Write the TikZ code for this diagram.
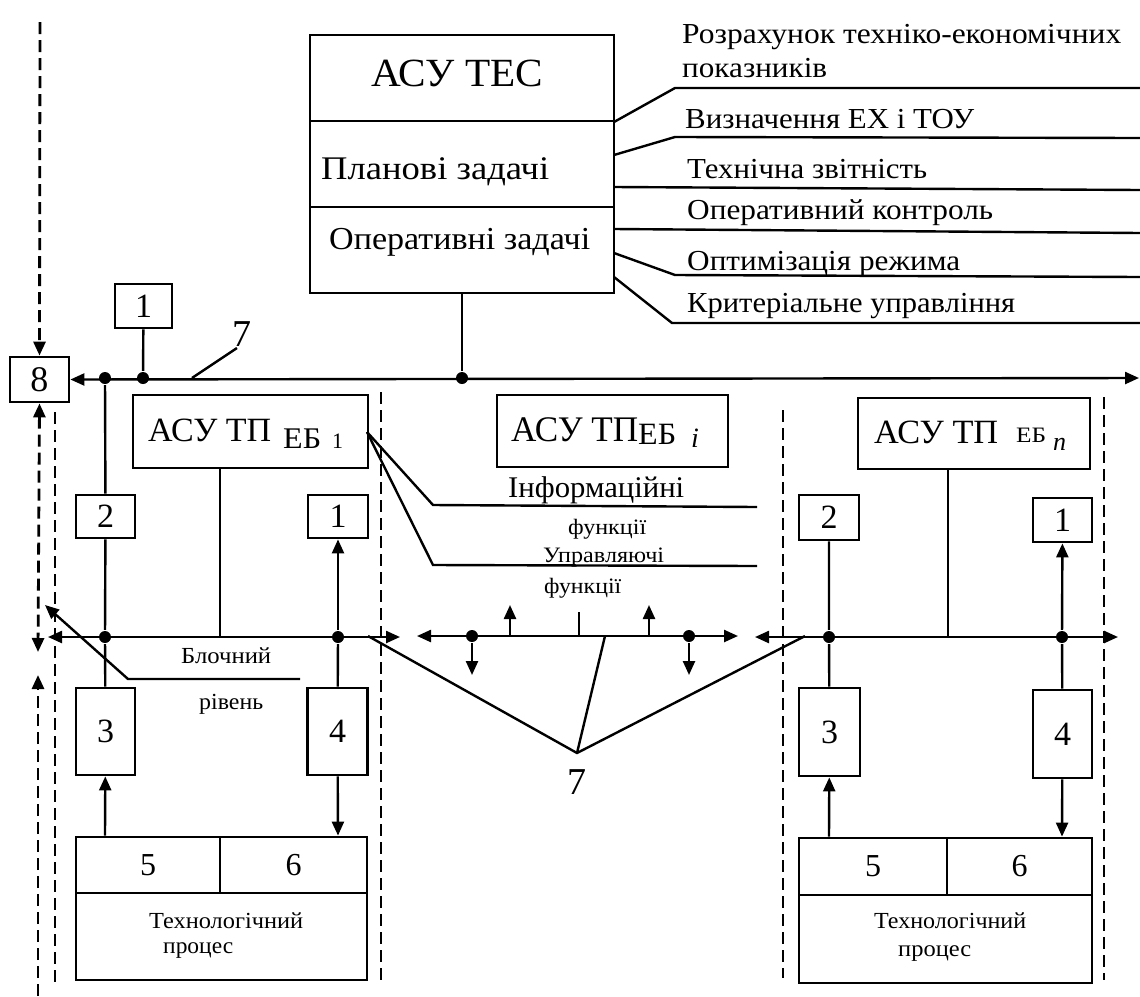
\documentclass[tikz,border=0pt]{standalone}
\usepackage{fontspec}
\setmainfont{Liberation Serif}
\usepackage{graphicx}
\usetikzlibrary{arrows.meta}
% set a text to a given width, keeping its height
\newcommand{\fitw}[2]{\resizebox{#1}{\height}{#2}}

\begin{document}
\begin{tikzpicture}[x=0.5pt,y=-0.5pt,line width=1.2pt,
  bx/.style 2 args={draw,line width=1.4pt,inner sep=0pt,
    minimum width=#1*0.5pt,minimum height=#2*0.5pt},
  tx/.style={inner sep=0pt,anchor=base west},
  arr/.style={-{Triangle[length=7pt,width=6pt]}},
  arr2/.style={{Triangle[length=7pt,width=6pt]}-{Triangle[length=7pt,width=6pt]}},
  sep/.style={line width=1.4pt,dash pattern=on 6pt off 3pt},
  jn/.style={circle,fill,inner sep=0pt,minimum size=6pt},
  ldr/.style={line width=1.2pt},
  num/.style={font=\fontsize{17}{20}\selectfont},
  rt/.style={tx,font=\fontsize{14.5}{17}\selectfont},
  sm/.style={tx,font=\fontsize{11.5}{13}\selectfont},
]
\fill[white] (0,0) rectangle (1140,996);
\useasboundingbox (0,0) rectangle (1140,996);

% ---------- plant level: АСУ ТЕС ----------
\node[bx={304}{258}] (tes) at (462,164) {};
\draw[line width=1.4pt] (310,121) -- (614,121) (310,207) -- (614,207);
\node[tx,font=\fontsize{20}{22}\selectfont] (tTes) at (370,86) {\fitw{86pt}{АСУ ТЕС}};
\node[tx,font=\fontsize{16.5}{19}\selectfont] (tPlan) at (320,179) {\fitw{114pt}{Планові задачі}};
\node[tx,font=\fontsize{16}{19}\selectfont] (tOper) at (328,249) {\fitw{130.5pt}{Оперативні задачі}};

% task list on the right
\coordinate (s1) at (614,122); \coordinate (k1) at (675,88);  \coordinate (e1) at (1140,88);
\coordinate (s2) at (614,155); \coordinate (k2) at (675,137); \coordinate (e2) at (1140,138);
\coordinate (s3) at (614,187); \coordinate (e3) at (1140,190);
\coordinate (s4) at (614,229); \coordinate (e4) at (1140,233);
\coordinate (s5) at (614,253); \coordinate (k5) at (675,275); \coordinate (e5) at (1140,277);
\coordinate (s6) at (614,277); \coordinate (k6) at (672,323); \coordinate (e6) at (1140,323);
\draw[ldr] (s1) -- (k1) -- (e1);
\draw[ldr] (s2) -- (k2) -- (e2);
\draw[ldr] (s3) -- (e3);
\draw[ldr] (s4) -- (e4);
\draw[ldr] (s5) -- (k5) -- (e5);
\draw[ldr] (s6) -- (k6) -- (e6);
\node[rt] (r1) at (681,43)  {\fitw{219.5pt}{Розрахунок техніко-економічних}};
\node[rt] (r1b) at (681,77) {\fitw{72.5pt}{показників}};
\node[rt] (r2) at (684,128) {\fitw{144.5pt}{Визначення ЕХ і ТОУ}};
\node[rt] (r3) at (686,178) {\fitw{120pt}{Технічна звітність}};
\node[rt] (r4) at (686,219) {\fitw{153pt}{Оперативний контроль}};
\node[rt] (r5) at (686,270) {\fitw{136.5pt}{Оптимізація режима}};
\node[rt] (r6) at (686,312) {\fitw{164pt}{Критеріальне управління}};

% ---------- plant bus 7 ----------
\node[bx={59}{45},font=\fontsize{18}{20}\selectfont] (b8) at (39.5,379.5) {8};
\node[bx={57}{44},num] (u0) at (143.5,306) {1};
\node[jn] (p1) at (143,378) {};
\node[jn] (p2) at (105,378) {};
\node[jn] (p3) at (462,378) {};
\coordinate (busR) at (1139,378);
\draw[arr2] (b8.east) -- (busR);
\draw (u0) -- (p1);
\draw (tes) -- (p3);
\node[inner sep=0pt,font=\fontsize{19}{22}\selectfont] (n7a) at (242,334) {7};
\coordinate (l7s) at (192,378); \coordinate (l7e) at (237,348);
\draw[ldr] (l7s) -- (l7e);

% dashed links of node 8 and unit borders
\coordinate (d8t) at (40,22);
\draw[sep,arr] (d8t) -- (b8.north);
\coordinate (d8m) at (38,652);
\draw[sep,arr2] (b8.south) -- (d8m);
\coordinate (d8b) at (38,996); \coordinate (d8u) at (38,675);
\draw[sep,arr] (d8b) -- (d8u);
\coordinate (g1t) at (55,412);   \coordinate (g1b) at (55,985);
\coordinate (g2t) at (381,392);  \coordinate (g2b) at (381,980);
\coordinate (g3t) at (783,410);  \coordinate (g3b) at (783,978);
\coordinate (g4t) at (1104,397); \coordinate (g4b) at (1104,980);
\draw[sep] (g1t) -- (g1b);
\draw[sep] (g2t) -- (g2b);
\draw[sep] (g3t) -- (g3b);
\draw[sep] (g4t) -- (g4b);

% ---------- unit 1 ----------
\node[bx={235}{73}] (eb1) at (250.5,431.5) {};
\node[tx,font=\fontsize{17}{20}\selectfont] at (147,441) {\fitw{61.5pt}{АСУ ТП}};
\node[tx,font=\fontsize{15}{18}\selectfont] at (282,448) {\fitw{19pt}{ЕБ}};
\node[tx,font=\fontsize{11}{12}\selectfont] at (331,448) {1};
\node[bx={59}{43},num] (a2) at (105.5,516.5) {2};
\node[bx={60}{43},num] (a1) at (338,516.5) {1};
\node[bx={59}{87},num] (a3) at (105.5,731.5) {3};
\node[bx={60}{87},num] (a4) at (337.5,731.5) {4};
\node[bx={144}{56},font=\fontsize{16}{18}\selectfont] (a5) at (148,865) {5};
\node[bx={147}{56},font=\fontsize{16}{18}\selectfont] (a6) at (293.5,865) {6};
\node[bx={291}{87}] (ap) at (221.5,936.5) {};
\node[sm] at (148,928) {\fitw{77pt}{Технологічний}};
\node[sm] at (162,953) {\fitw{35pt}{процес}};
\node[jn] (q1) at (105,637) {};
\node[jn] (q2) at (338,637) {};
\node[jn,minimum size=0pt] (q0) at (220,637) {};
\coordinate (bl1) at (48,637); \coordinate (br1) at (400,637);
\draw[arr2] (bl1) -- (br1);
\draw (p2) -- (a2);
\draw (a2) -- (q1) -- (a3);
\draw (eb1.south -| q0) -- (q0);
\draw[arr] (q2) -- (a1);
\draw (q2) -- (a4);
\draw[arr] (a5.north -| q1) -- (a3);
\draw[arr] (a4) -- (a6.north -| q2);
% block level label
\node[sm] (blk) at (180,663) {\fitw{45pt}{Блочний}};
\node[sm] (riv) at (198,709) {\fitw{32pt}{рівень}};
\coordinate (bk1) at (300,679); \coordinate (bk2) at (128,679); \coordinate (bk3) at (45,605);
\draw[ldr,arr] (bk1) -- (bk2) -- (bk3);

% ---------- unit i ----------
\node[bx={231}{72}] (ebi) at (612.5,431) {};
\node[tx,font=\fontsize{18}{20}\selectfont] at (510,441) {\fitw{63.5pt}{АСУ ТП}};
\node[tx,font=\fontsize{15.5}{18}\selectfont] at (637,444) {\fitw{19pt}{ЕБ}};
\node[tx,font=\fontsize{14}{16}\selectfont\itshape] at (690,447) {i};
% function leaders
\coordinate (f0) at (367,432);
\coordinate (f1) at (433,505); \coordinate (f1e) at (757,507);
\coordinate (f2) at (433,565); \coordinate (f2e) at (757,566);
\draw[ldr] (f0) -- (f1) -- (f1e);
\draw[ldr] (f0) -- (f2) -- (f2e);
\node[tx,font=\fontsize{15}{18}\selectfont] at (507,497) {\fitw{88pt}{Інформаційні}};
\node[tx,font=\fontsize{11}{13}\selectfont] at (567,534) {\fitw{39pt}{функції}};
\node[tx,font=\fontsize{11}{13}\selectfont] at (542,562) {\fitw{60.5pt}{Управляючі}};
\node[tx,font=\fontsize{11}{13}\selectfont] at (543,593) {\fitw{38.5pt}{функції}};
% bus of unit i
\node[jn] (m1) at (472,636) {};
\node[jn] (m2) at (689,636) {};
\coordinate (ml) at (417,636); \coordinate (mr) at (738,636);
\draw[arr2] (ml) -- (mr);
\coordinate (m1d) at (472,675); \coordinate (m2d) at (689,675);
\draw[arr] (m1) -- (m1d);
\draw[arr] (m2) -- (m2d);
\coordinate (mu1) at (510,636); \coordinate (mu1e) at (510,605);
\coordinate (mu2) at (649,636); \coordinate (mu2e) at (649,605);
\coordinate (mt) at (579,636);  \coordinate (mte) at (579,612);
\draw[arr] (mu1) -- (mu1e);
\draw[arr] (mu2) -- (mu2e);
\draw (mt) -- (mte);

% ---------- unit n ----------
\node[bx={232}{71}] (ebn) at (974,433.5) {};
\node[tx,font=\fontsize{17}{20}\selectfont] at (873,443) {\fitw{62pt}{АСУ ТП}};
\node[tx,font=\fontsize{11}{12}\selectfont] at (1015,442) {\fitw{15pt}{ЕБ}};
\node[tx,font=\fontsize{13}{14}\selectfont\itshape] at (1052,450) {n};
\node[bx={60}{45},num] (c2) at (829,517.5) {2};
\node[bx={59}{44},num] (c1) at (1062.5,520) {1};
\node[bx={61}{88},num] (c3) at (829.5,732) {3};
\node[bx={59}{88},num] (c4) at (1062.5,734) {4};
\node[bx={148}{57},font=\fontsize{16}{18}\selectfont] (c5) at (873,866.5) {5};
\node[bx={145}{57},font=\fontsize{16}{18}\selectfont] (c6) at (1019.5,866.5) {6};
\node[bx={293}{88}] (cp) at (945.5,939) {};
\node[sm] at (873,928) {\fitw{76pt}{Технологічний}};
\node[sm] at (897,956) {\fitw{36.5pt}{процес}};
\node[jn] (w1) at (829,637) {};
\node[jn] (w2) at (1062,637) {};
\node[jn,minimum size=0pt] (w0) at (948,637) {};
\coordinate (bl3) at (755,637); \coordinate (br3) at (1118,637);
\draw[arr2] (bl3) -- (br3);
\draw (c2) -- (w1) -- (c3);
\draw (ebn.south -| w0) -- (w0);
\draw[arr] (w2) -- (c1);
\draw (w2) -- (c4);
\draw[arr] (c5.north -| w1) -- (c3);
\draw[arr] (c4) -- (c6.north -| w2);

% ---------- label 7 for the unit buses ----------
\node[inner sep=0pt,font=\fontsize{19}{22}\selectfont] (n7b) at (577,782) {7};
\coordinate (z0) at (577,753);
\coordinate (z1) at (368,636); \coordinate (z2) at (605,636); \coordinate (z3) at (805,636);
\draw[ldr] (z1) -- (z0) -- (z3);
\draw[ldr] (z2) -- (z0);
\end{tikzpicture}
\end{document}
